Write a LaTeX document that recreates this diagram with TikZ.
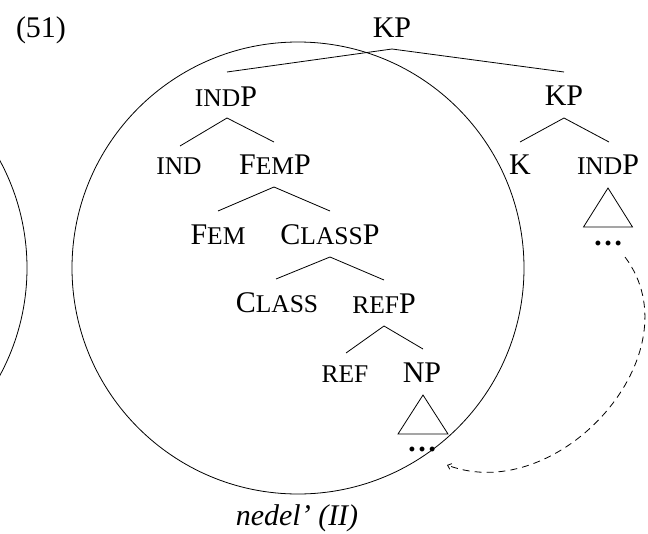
\documentclass[tikz,border=0pt]{standalone}
\usepackage{fontspec}
\setmainfont{Liberation Serif}
\usetikzlibrary{calc,arrows.meta}
\newcommand\fsc[1]{{\fontsize{25.5}{30}\selectfont #1}}
\begin{document}
\begin{tikzpicture}[x=1pt,y=-1pt,
  lbl/.style={anchor=base, inner sep=0pt, font=\fontsize{30}{36}\selectfont},
  branch/.style={line width=0.8pt},
  roof/.style={line width=0.8pt, line join=miter},
  ring/.style={line width=0.8pt},
  movement/.style={line width=0.8pt, dash pattern=on 7pt off 5pt,
    -{Straight Barb[length=3.5pt,width=6pt]}}]
\path[use as bounding box] (0,0) rectangle (648,533);
\begin{scope}
  \clip (0,0) rectangle (648,533);
  \draw[ring] (-199,268) circle[radius=226pt];
\end{scope}
\draw[ring] (298,268) circle[radius=226pt];

\node[lbl] (ex) at (41,37) {(51)};
\node[lbl] (kp) at (392,37) {KP};
\node[lbl] (indp) at (226,106) {\fsc{IND}P};
\node[lbl] (kp2) at (564,105) {KP};
\node[lbl] (ind) at (179,174) {\fsc{IND}};
\node[lbl] (femp) at (275,174) {F\fsc{EM}P};
\node[lbl] (k) at (520,174) {K};
\node[lbl] (indp2) at (608,174) {\fsc{IND}P};
\node[lbl] (fem) at (218,244) {F\fsc{EM}};
\node[lbl] (classp) at (330,244) {C\fsc{LASS}P};
\node[lbl] (class) at (277,312) {C\fsc{LASS}};
\node[lbl] (refp) at (384,313) {\fsc{REF}P};
\node[lbl] (ref) at (345,382) {\fsc{REF}};
\node[lbl] (np) at (422,382) {NP};
\node[lbl] (dotsa) at (422,451) {\bfseries …};
\node[lbl] (dotsb) at (608,245) {\bfseries …};
\node[lbl] (name) at (297,525) {\itshape nedel’ (II)};

% branches
\draw[branch] ($(indp.base)+(1,-34)$) -- ($(kp.base)+(0,12)$) -- ($(kp2.base)+(0,-33)$);
\draw[branch] ($(ind.base)+(1,-28)$) -- ($(indp.base)+(1,12)$) -- ($(femp.base)+(-1,-32)$);
\draw[branch] ($(fem.base)+(0,-33)$) -- ($(femp.base)+(-1,13)$) -- ($(classp.base)+(0,-33)$);
\draw[branch] ($(class.base)+(-1,-33)$) -- ($(classp.base)+(0,13)$) -- ($(refp.base)+(0,-33)$);
\draw[branch] ($(ref.base)+(1,-29)$) -- ($(refp.base)+(0,13)$) -- ($(np.base)+(1,-33)$);
\draw[branch] ($(k.base)+(0,-32)$) -- ($(kp2.base)+(0,13)$) -- ($(indp2.base)+(1,-32)$);

% roofs
\draw[roof] ($(np.base)+(1,13)$) -- ++(-25,39) -- ++(50,0) -- cycle;
\draw[roof] ($(indp2.base)+(0,14)$) -- ++(-24.5,39) -- ++(49,0) -- cycle;

% movement
\coordinate (mvs) at ($(dotsb.base)+(17,12)$);
\coordinate (mve) at ($(dotsa.base)+(25,14)$);
\draw[movement] (mvs) .. controls (697,353) and (559,507) .. (mve);
\end{tikzpicture}
\end{document}
